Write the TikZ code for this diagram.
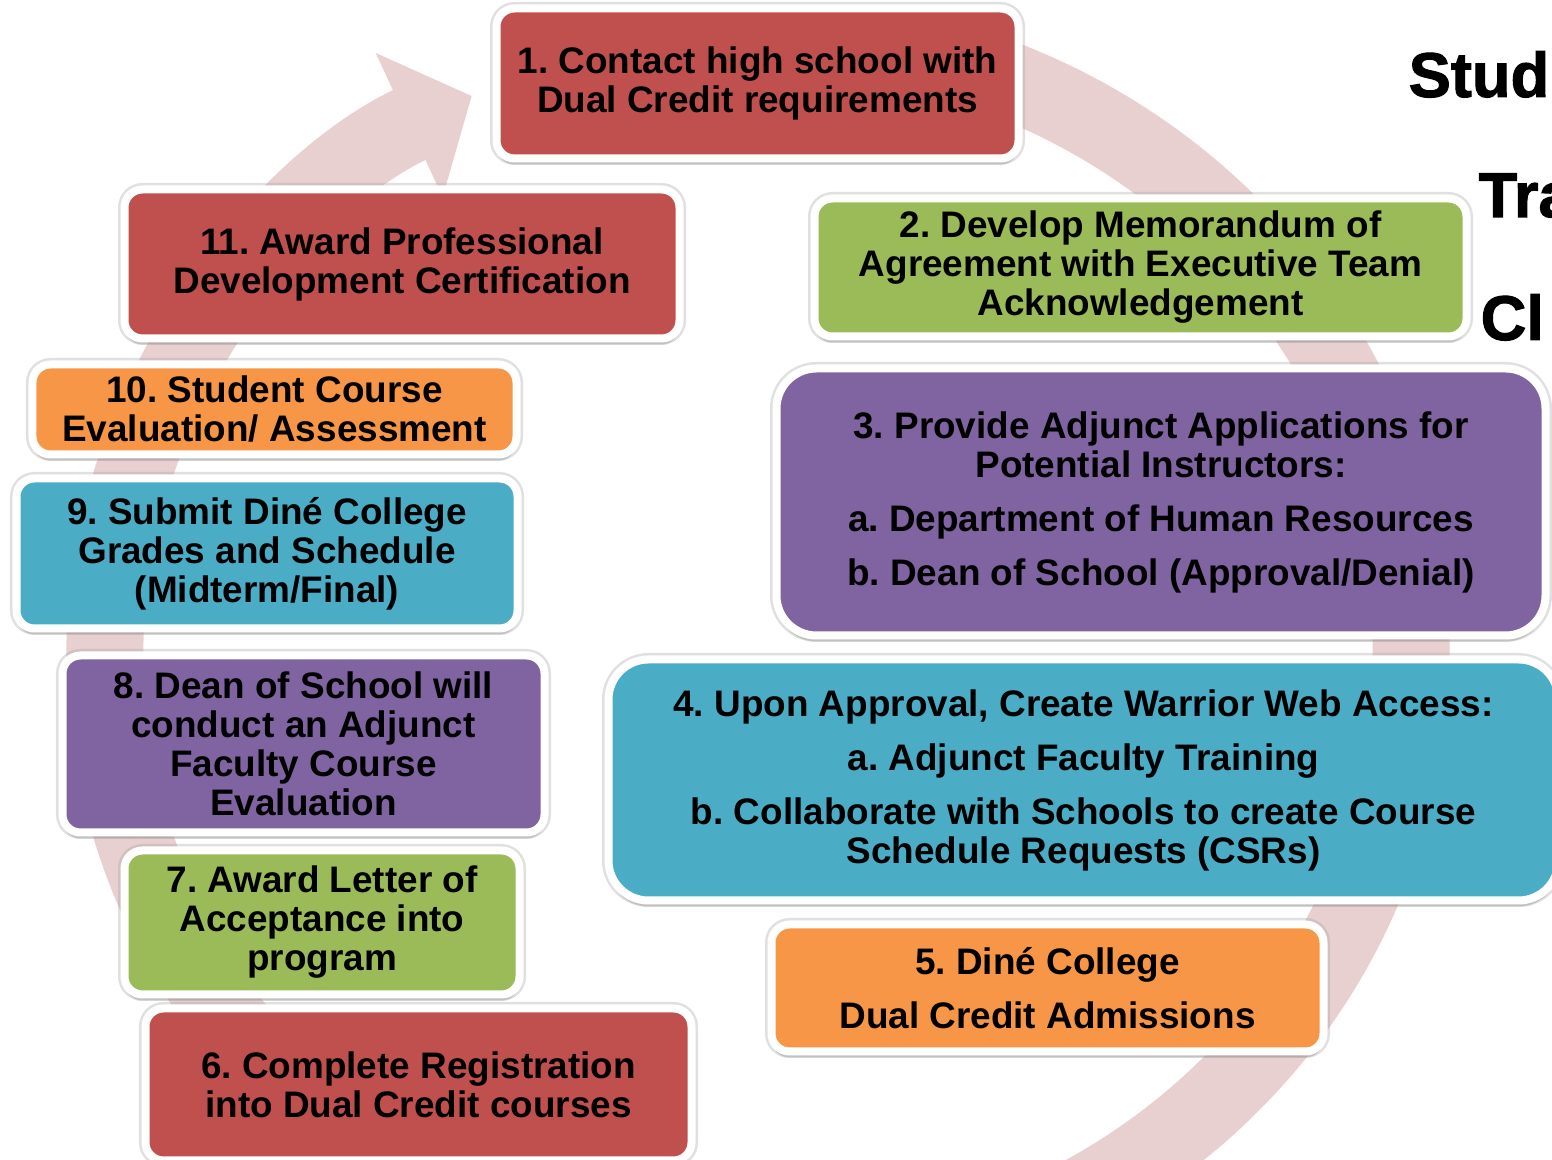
\documentclass[tikz,border=0pt]{standalone}
\usepackage{fontspec}
\setmainfont{Liberation Sans}
\newfontfamily\headfont[BoldFont={Liberation Sans Bold},BoldFeatures={FakeBold=1.6}]{Liberation Sans}
\frenchspacing
\usetikzlibrary{arrows.meta,shadows}
\definecolor{stepred}{RGB}{192,80,77}
\definecolor{stepgreen}{RGB}{155,187,89}
\definecolor{steppurple}{RGB}{128,100,162}
\definecolor{stepteal}{RGB}{75,172,198}
\definecolor{steporange}{RGB}{247,150,70}
\definecolor{ringpink}{RGB}{232,207,208}
\tikzstyle{stage}=[rectangle,rounded corners=0.18cm,draw=white,line width=0.08cm,inner sep=0pt,align=center,font={\fontsize{10.5}{11.1}\selectfont\bfseries},drop shadow={shadow xshift=0cm,shadow yshift=-0.06cm,opacity=0.3,fill=black!60},preaction={draw=black!35,line width=0.13cm,opacity=0.35}]
\tikzstyle{ring}=[line width=0.77cm,draw=ringpink,-{Triangle[length=0.69cm,width=1.55cm]}]
\tikzstyle{heading}=[inner sep=0pt,anchor=base west,font={\fontsize{18}{20}\selectfont\headfont\bfseries}]

\begin{document}
\begin{tikzpicture}
		\useasboundingbox (0,0) rectangle (15.52,11.6);
		% cycle arrow behind the steps
		\draw[ring] (7.58,5.05) ++(72:6.53 and 6.22) arc[start angle=72,end angle=-244,x radius=6.53,y radius=6.22];
		
		\node[stage,fill=stepred,minimum width=5.22cm,minimum height=1.50cm] (s1) at (7.575,10.765) {1. Contact high school with\\Dual Credit requirements};
		\node[stage,fill=stepgreen,minimum width=6.52cm,minimum height=1.38cm] (s2) at (11.405,8.925) {2. Develop Memorandum of\\Agreement with Executive Team\\Acknowledgement};
		\node[stage,fill=steppurple,rounded corners=0.4cm,minimum width=7.69cm,minimum height=2.67cm] (s3) at (11.61,6.58) {3. Provide Adjunct Applications for\\Potential Instructors:\\[0.15cm]a. Department of Human Resources\\[0.15cm]b. Dean of School (Approval/Denial)};
		\node[stage,fill=stepteal,rounded corners=0.4cm,minimum width=9.50cm,minimum height=2.41cm] (s4) at (10.835,3.80) {4. Upon Approval, Create Warrior Web Access:\\[0.15cm]a. Adjunct Faculty Training\\[0.15cm]b. Collaborate with Schools to create Course\\Schedule Requests (CSRs)};
		\node[stage,fill=steporange,minimum width=5.52cm,minimum height=1.27cm] (s5) at (10.475,1.72) {5. Diné College\\[0.15cm]Dual Credit Admissions};
		\node[stage,fill=stepred,minimum width=5.46cm,minimum height=1.52cm] (s6) at (4.185,0.755) {6. Complete Registration\\into Dual Credit courses};
		\node[stage,fill=stepgreen,minimum width=3.95cm,minimum height=1.44cm] (s7) at (3.22,2.375) {7. Award Letter of\\Acceptance into\\program};
		\node[stage,fill=steppurple,minimum width=4.82cm,minimum height=1.77cm] (s8) at (3.035,4.16) {8. Dean of School will\\conduct an Adjunct\\Faculty Course\\Evaluation};
		\node[stage,fill=stepteal,minimum width=5.01cm,minimum height=1.50cm] (s9) at (2.67,6.065) {9. Submit Diné College\\Grades and Schedule\\(Midterm/Final)};
		\node[stage,fill=steporange,minimum width=4.84cm,minimum height=0.90cm] (s10) at (2.745,7.505) {10. Student Course\\Evaluation/ Assessment};
		\node[stage,fill=stepred,minimum width=5.55cm,minimum height=1.49cm] (s11) at (4.02,8.96) {11. Award Professional\\Development Certification};
		
		% title, cut off at the right edge
		\node[heading] (tStud) at (14.08,10.63) {Stud};
		\node[heading] (tTra) at (14.78,9.43) {Tra};
		\node[heading] (tCl) at (14.80,8.20) {Cl};
\end{tikzpicture}
\end{document}
